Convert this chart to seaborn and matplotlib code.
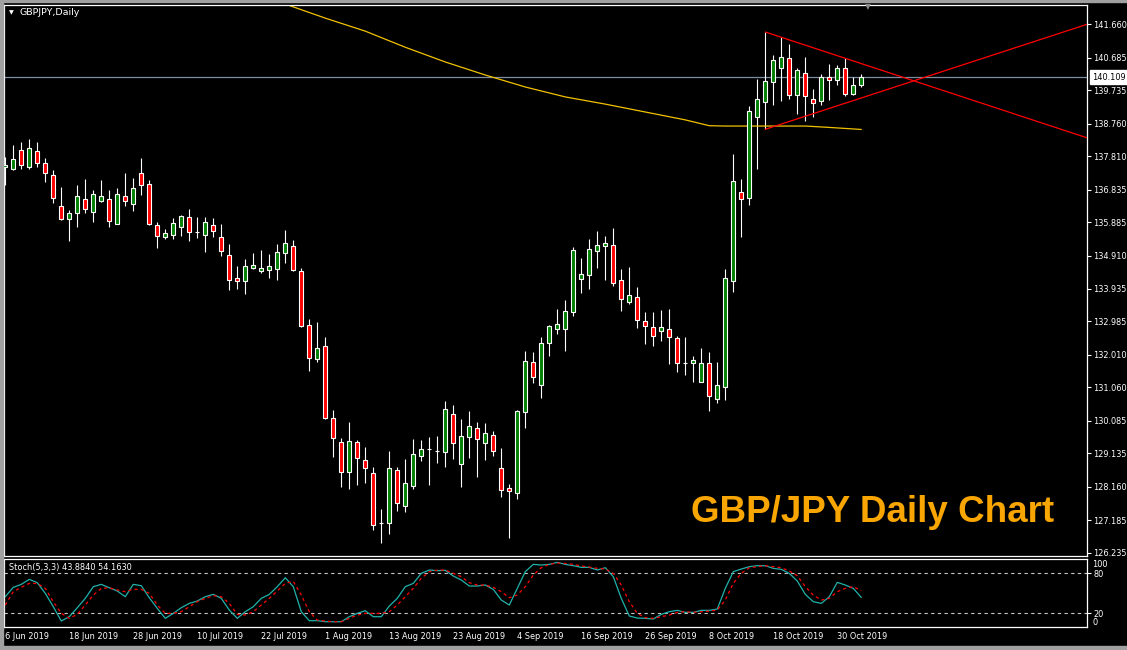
import numpy as np
import pandas as pd
import matplotlib
matplotlib.use('Agg')
import matplotlib.pyplot as plt
import seaborn as sns
from matplotlib.patches import Rectangle
from matplotlib.transforms import blended_transform_factory

# daily candles, GBPJPY, 6 Jun 2019 .. 31 Oct 2019 (one per trading day)
opens = [137.494, 137.427, 137.982, 137.503, 137.953, 137.611, 137.261, 136.356, 135.985, 136.143,
         136.560, 136.190, 136.493, 136.560, 135.831, 136.648, 136.423, 137.319, 136.998, 135.801,
         135.460, 135.518, 135.752, 136.035, 135.588, 135.518, 135.801, 135.442, 134.926, 134.246,
         134.158, 134.537, 134.450, 134.479, 134.508, 134.975, 135.180, 134.450, 132.874, 131.881,
         132.261, 130.159, 129.459, 128.583, 129.459, 128.933, 128.554, 127.094, 127.094, 128.641,
         127.590, 128.192, 129.050, 129.272, 129.196, 129.167, 130.276, 128.816, 129.605, 129.867,
         129.430, 129.663, 128.700, 128.116, 127.970, 130.334, 131.794, 131.122, 132.348, 132.757,
         132.757, 133.253, 134.217, 134.333, 135.034, 135.180, 135.209, 134.187, 133.563, 133.691,
         132.991, 132.816, 132.699, 132.757, 132.494, 131.765, 131.765, 131.227, 131.765, 130.731,
         131.082, 134.176, 136.756, 136.598, 138.963, 139.400, 139.967, 140.375, 140.667, 139.587,
         140.229, 139.471, 139.412, 140.113, 140.025, 140.375, 139.616, 139.879]
highs = [137.795, 138.145, 138.224, 138.312, 138.224, 137.757, 137.407, 136.919, 136.239, 136.969,
         137.144, 136.823, 137.115, 136.823, 136.881, 137.319, 137.173, 137.757, 137.115, 135.889,
         135.685, 136.006, 136.093, 136.269, 136.035, 136.035, 136.006, 135.831, 135.247, 134.605,
         134.809, 134.984, 135.072, 134.955, 135.247, 135.656, 135.364, 134.537, 133.058, 132.970,
         132.532, 130.393, 129.584, 130.051, 129.517, 129.313, 128.729, 127.503, 129.196, 128.729,
         128.963, 129.546, 129.517, 129.605, 129.634, 130.655, 130.539, 130.130, 130.364, 130.042,
         130.013, 129.780, 129.283, 128.233, 130.393, 132.115, 132.086, 132.523, 132.874, 133.341,
         133.603, 135.151, 134.829, 135.384, 135.618, 135.472, 135.705, 134.508, 134.567, 133.983,
         133.253, 133.253, 133.312, 133.341, 132.553, 132.523, 131.969, 132.202, 132.086, 131.794,
         134.508, 137.874, 137.144, 139.275, 140.054, 141.435, 140.755, 141.280, 141.076, 140.375,
         140.696, 139.762, 140.200, 140.492, 140.463, 140.667, 140.113, 140.200]
lows = [136.969, 137.420, 137.445, 137.445, 137.503, 137.065, 136.452, 135.960, 135.343, 135.752,
        136.143, 135.898, 136.473, 135.752, 135.820, 136.356, 136.219, 136.677, 135.801, 135.130,
        135.393, 135.393, 135.480, 135.334, 135.422, 135.013, 135.451, 134.897, 133.904, 133.942,
        133.796, 134.508, 134.392, 134.263, 134.205, 134.683, 134.460, 132.815, 131.549, 131.811,
        130.130, 129.038, 128.145, 128.087, 128.203, 128.262, 126.890, 126.511, 126.773, 127.462,
        127.433, 128.104, 128.922, 128.221, 128.846, 128.729, 128.963, 128.145, 128.992, 128.437,
        128.933, 129.050, 127.853, 126.657, 127.812, 129.885, 131.198, 130.761, 131.986, 132.629,
        132.132, 133.154, 133.825, 133.942, 134.555, 134.205, 134.030, 133.300, 133.504, 132.804,
        132.337, 132.278, 132.424, 131.753, 131.519, 131.432, 131.227, 131.220, 130.381, 130.614,
        130.702, 133.855, 135.460, 136.385, 137.445, 138.595, 139.295, 139.412, 139.471, 139.033,
        138.828, 138.963, 139.295, 139.441, 139.879, 139.558, 139.587, 139.821]
closes = [137.553, 137.719, 137.544, 138.040, 137.620, 137.328, 136.598, 135.968, 136.152, 136.648,
          136.260, 136.706, 136.648, 135.927, 136.706, 136.511, 136.881, 136.978, 135.831, 135.489,
          135.568, 135.860, 136.064, 135.588, 135.588, 135.889, 135.635, 135.034, 134.205, 134.158,
          134.596, 134.625, 134.537, 134.596, 135.005, 135.267, 134.479, 132.862, 131.911, 132.202,
          130.159, 129.575, 128.583, 129.488, 128.992, 128.700, 127.036, 127.094, 128.700, 127.678,
          128.262, 129.108, 129.254, 129.272, 129.196, 130.422, 129.430, 129.634, 129.926, 129.546,
          129.721, 129.196, 128.058, 128.029, 130.364, 131.823, 131.356, 132.348, 132.845, 132.903,
          133.282, 135.063, 134.362, 135.092, 135.209, 135.267, 134.100, 133.650, 133.749, 133.020,
          132.845, 132.570, 132.816, 132.523, 131.765, 131.765, 131.852, 131.765, 130.819, 131.122,
          134.246, 137.077, 136.569, 139.120, 139.471, 139.996, 140.609, 140.696, 139.587, 140.317,
          139.558, 139.354, 140.113, 140.025, 140.375, 139.616, 139.879, 140.109]

# 200-day average (yellow), read at some bars
ma_bar = [35, 40, 45, 50, 55, 60, 65, 70, 75, 80, 85, 88, 90, 95, 100, 103, 105, 107]
ma_val = [142.25, 141.84, 141.46, 140.99, 140.56, 140.18, 139.83, 139.54, 139.33, 139.10,
          138.87, 138.70, 138.69, 138.69, 138.69, 138.65, 138.62, 138.59]

# triangle trend lines: two anchor points each (bar, price), extended to the right
upper_trend = [(95, 141.435), (105, 140.667)]
lower_trend = [(95, 138.595), (105, 139.357)]

last_price = 140.109
price_ticks = [141.660, 140.685, 139.735, 138.760, 137.810, 136.835, 135.885, 134.910, 133.935,
               132.985, 132.010, 131.060, 130.085, 129.135, 128.160, 127.185, 126.235]

# Stochastic (5,3,3)
stoch_k = [45, 59, 63.5, 71, 66, 50, 30, 8.5, 15, 28.5, 42.5, 60, 63.5, 58.5, 53.5, 45, 63.5, 61.5,
           43.5, 27.5, 12.5, 20, 28.5, 35, 38.5, 45, 48.5, 42.5, 25, 12.5, 22.5, 30, 42.5, 48.5, 60,
           73.5, 60, 22.5, 9, 9, 7.5, 7.5, 7.5, 15, 20, 24, 15, 15, 31, 42.5, 60, 65, 80, 85, 84,
           84.5, 76, 70, 61, 61, 62.5, 56, 40, 32.5, 57.5, 82.5, 93.5, 92.5, 93.5, 96.5, 93.5, 91.5,
           89, 89, 85, 88.5, 75, 42.5, 16, 13, 12.5, 11.5, 18.5, 22.5, 24.5, 21.5, 21.5, 24.5, 24.5,
           26.5, 57.5, 82.5, 86.5, 90, 91.5, 91.5, 87.5, 86, 80, 68.5, 48.5, 37.5, 35, 45, 66.5,
           62.5, 57.5, 43.884]
stoch_d = [32.5, 52.5, 59, 65, 65, 57.5, 37.5, 20, 12.5, 18.5, 32.5, 47.5, 57.5, 58.5, 55, 52.5,
           56, 56, 50, 32.5, 20, 20, 22.5, 30, 37.5, 42.5, 46.5, 45, 35, 18.5, 17.5, 22.5, 32.5,
           42.5, 53.5, 65, 68, 47.5, 22.5, 10, 8.5, 7.5, 7.5, 12.5, 17.5, 20, 20, 20, 22.5, 32.5,
           45, 57.5, 72.5, 82.5, 85, 85, 80, 75, 66, 62.5, 62.5, 59, 52.5, 43.5, 47.5, 60, 77.5,
           88.5, 93.5, 95.5, 95, 93.5, 91, 89.5, 87.5, 86.5, 80, 62.5, 37.5, 20, 13.5, 12.5, 15,
           17.5, 21.5, 22.5, 21.5, 22.5, 23.5, 25, 40, 65, 80, 88.5, 90, 91.5, 90, 88.5, 83.5,
           76.5, 60, 47.5, 40, 42.5, 52.5, 57.5, 60, 54.163]

date_ticks = [0, 8, 16, 24, 32, 40, 48, 56, 64, 72, 80, 88, 96, 104]
date_labels = ['6 Jun 2019', '18 Jun 2019', '28 Jun 2019', '10 Jul 2019', '22 Jul 2019',
               '1 Aug 2019', '13 Aug 2019', '23 Aug 2019', '4 Sep 2019', '16 Sep 2019',
               '26 Sep 2019', '8 Oct 2019', '18 Oct 2019', '30 Oct 2019']

sns.set_style('dark')
plt.rcParams['font.family'] = ['DejaVu Sans']

df = pd.DataFrame({'open': opens, 'high': highs, 'low': lows, 'close': closes})
df['bar'] = np.arange(len(df))
fs = 5.9
xlim = (-0.16, 135.25)

fig = plt.figure(figsize=(11.27, 6.5), dpi=100, facecolor='black')
ax = fig.add_axes([0.00355, 0.14462, 0.96122, 0.84815], facecolor='black')
ax2 = fig.add_axes([0.00355, 0.03585, 0.96122, 0.10462], facecolor='black')

for a in (ax, ax2):
    a.grid(False)
    for s in a.spines.values():
        s.set_color('white')
        s.set_linewidth(0.9)
    a.set_xlim(*xlim)

# price panel
ax.axhline(last_price, color='#7b8ca0', lw=0.9, zorder=1)
ax.vlines(df['bar'], df['low'], df['high'], colors='white', linewidth=0.8, zorder=2)
body_col = np.where(df['close'] > df['open'], '#008000',
                    np.where(df['close'] < df['open'], '#ff0000', 'white'))
ax.bar(df['bar'], (df['close'] - df['open']).abs(), bottom=df[['open', 'close']].min(axis=1),
       width=0.55, color=body_col, edgecolor='white', linewidth=0.8, zorder=3)

sns.lineplot(x=ma_bar, y=ma_val, ax=ax, color='#f2c200', linewidth=0.9, zorder=2)

for (x0, y0), (x1, y1) in (upper_trend, lower_trend):
    slope = (y1 - y0) / (x1 - x0)
    ax.plot([x0, xlim[1]], [y0, y0 + slope * (xlim[1] - x0)], color='#ff0000', lw=0.9, zorder=4)

ax.set_ylim(126.14, 142.232)
ax.yaxis.tick_right()
ax.set_yticks(price_ticks)
ax.set_yticklabels([f'{v:.3f}' for v in price_ticks])
ax.tick_params(axis='y', colors='white', length=3, width=0.8, pad=1.5, labelsize=fs)
ax.set_xticks([])
ax.set_xlabel('')
ax.set_ylabel('')

ax.annotate(f'{last_price:.3f}', xy=(1.0, last_price),
            xycoords=blended_transform_factory(ax.transAxes, ax.transData),
            xytext=(3.4, 0), textcoords='offset points', va='center', ha='left',
            fontsize=fs, color='black',
            bbox=dict(boxstyle='square,pad=0.3', fc='white', ec='white'))

# stochastic panel
ax2.axhline(80, color='#c8c8c8', lw=0.8, ls=(0, (3, 3)))
ax2.axhline(20, color='#c8c8c8', lw=0.8, ls=(0, (3, 3)))
bars = np.arange(len(stoch_k))
sns.lineplot(x=bars, y=stoch_k, ax=ax2, color='#20b2aa', linewidth=0.9)
sns.lineplot(x=bars, y=stoch_d, ax=ax2, color='#ff0000', linewidth=0.9)
ax2.lines[-1].set_linestyle((0, (2.5, 2.5)))
ax2.set_ylim(0, 102)
ax2.yaxis.tick_right()
ax2.set_yticks([80, 20])
ax2.set_yticklabels(['80', '20'])
ax2.tick_params(axis='y', colors='white', length=3, width=0.8, pad=1.5, labelsize=fs)
tr2 = blended_transform_factory(ax2.transAxes, ax2.transData)
ax2.text(1.0045, 93, '100', transform=tr2, color='white', fontsize=fs, va='center')
ax2.text(1.0045, 7, '0', transform=tr2, color='white', fontsize=fs, va='center')
ax2.set_xticks(date_ticks)
ax2.set_xticklabels(date_labels)
plt.setp(ax2.get_xticklabels(), ha='left')
ax2.tick_params(axis='x', colors='white', length=2.5, width=0.8, pad=1.5, labelsize=fs)
ax2.set_xlabel('')
ax2.set_ylabel('')
ax2.text(0.0046, 0.868, f'Stoch(5,3,3) {stoch_k[-1]:.4f} {stoch_d[-1]:.4f}',
         transform=ax2.transAxes, color='white', fontsize=fs, va='center')

# labels and window chrome
fig.text(20 / 1127, 1 - 12.7 / 650, 'GBPJPY,Daily', color='white', fontsize=6.8, va='center')
fig.text(11.5 / 1127, 1 - 12.5 / 650, '\u25bc', color='white', fontsize=4.5, va='center', ha='center')
fig.text(868 / 1127, 1 - 7 / 650, '\u25bc', color='#8a8a8a', fontsize=5.5, va='center', ha='center')
fig.text(691 / 1127, 1 - 522 / 650, 'GBP/JPY Daily Chart', color='#f9a602', fontsize=26.5,
         fontweight='bold', family='Liberation Sans', va='baseline', ha='left')

for r in [(0, 0, 3 / 1127, 1), (0, 1 - 2 / 650, 1, 2 / 650), (0, 0, 1, 4 / 650)]:
    fig.patches.append(Rectangle(r[:2], r[2], r[3], transform=fig.transFigure,
                                 color='#a0a0a0', zorder=0))

fig.savefig('out.png', dpi=100, facecolor='black')
